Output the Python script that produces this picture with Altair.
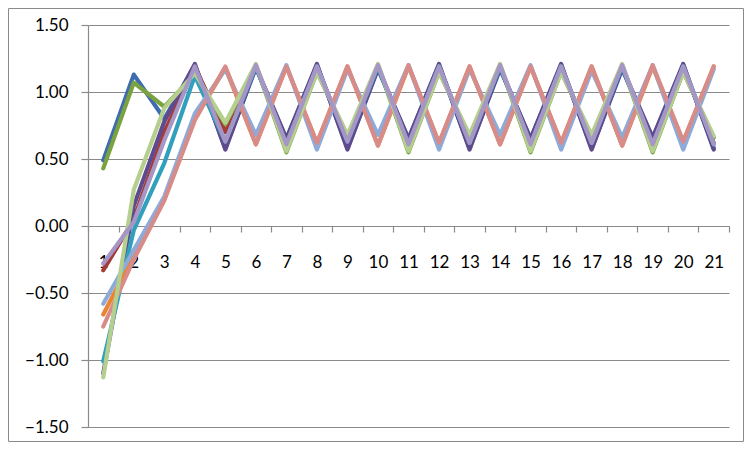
import altair as alt
import pandas as pd

categories = list(range(1, 22))

series_names = ["01 Blue", "02 Red", "03 Green", "04 Purple", "05 Aqua",
                "06 Orange", "07 Light blue", "08 Light red", "09 Light green", "10 Light purple"]
series_colors = ["#3E6CAE", "#A63A36", "#7AA33F", "#5E4A8C", "#31A0BC",
                 "#EA8432", "#8DABDA", "#D88C89", "#B5D08E", "#A596C5"]

s_blue = [0.49, 1.13, 0.80, 1.20, 0.58, 1.18, 0.65, 1.20, 0.58, 1.17, 0.65,
          1.20, 0.58, 1.17, 0.65, 1.20, 0.58, 1.17, 0.65, 1.20, 0.58]
s_red = [-0.33, 0.05, 0.70, 1.19, 0.70, 1.19, 0.62, 1.18, 0.64, 1.19, 0.62,
         1.18, 0.63, 1.19, 0.62, 1.18, 0.63, 1.19, 0.62, 1.18, 0.62]
s_green = [0.43, 1.07, 0.89, 1.13, 0.76, 1.20, 0.55, 1.15, 0.67, 1.20, 0.55,
           1.15, 0.67, 1.20, 0.55, 1.15, 0.67, 1.20, 0.55, 1.15, 0.66]
s_purple = [-1.10, 0.15, 0.78, 1.21, 0.57, 1.19, 0.65, 1.21, 0.57, 1.18, 0.65,
            1.21, 0.57, 1.18, 0.65, 1.21, 0.57, 1.18, 0.66, 1.21, 0.57]
s_aqua = [-1.01, -0.03, 0.47, 1.12, 0.63, 1.19, 0.61, 1.19, 0.63, 1.19, 0.61,
          1.19, 0.62, 1.19, 0.61, 1.19, 0.62, 1.19, 0.61, 1.19, 0.61]
s_orange = [-0.66, -0.22, 0.20, 0.80, 1.18, 0.61, 1.19, 0.62, 1.19, 0.60, 1.19,
            0.62, 1.19, 0.61, 1.19, 0.62, 1.19, 0.60, 1.19, 0.63, 1.19]
s_light_blue = [-0.58, -0.18, 0.22, 0.84, 1.17, 0.68, 1.20, 0.57, 1.17, 0.68, 1.20,
                0.57, 1.17, 0.68, 1.20, 0.57, 1.16, 0.66, 1.20, 0.57, 1.17]
s_light_red = [-0.75, -0.25, 0.19, 0.79, 1.19, 0.61, 1.19, 0.62, 1.19, 0.60, 1.20,
               0.62, 1.19, 0.61, 1.19, 0.62, 1.19, 0.60, 1.20, 0.63, 1.19]
s_light_green = [-1.13, 0.27, 0.88, 1.14, 0.77, 1.21, 0.56, 1.15, 0.68, 1.21, 0.56,
                 1.15, 0.68, 1.21, 0.56, 1.15, 0.68, 1.21, 0.56, 1.15, 0.67]
s_light_purple = [-0.28, 0.03, 0.64, 1.19, 0.63, 1.20, 0.61, 1.19, 0.63, 1.20, 0.61,
                  1.19, 0.62, 1.20, 0.61, 1.19, 0.62, 1.20, 0.61, 1.19, 0.61]

y_ticks = [-1.5, -1.0, -0.5, 0.0, 0.5, 1.0, 1.5]
x_ticks = [i / 2 for i in range(1, 44)]

all_series = [s_blue, s_red, s_green, s_purple, s_aqua, s_orange,
              s_light_blue, s_light_red, s_light_green, s_light_purple]

rows = []
for name, vals in zip(series_names, all_series):
    for c, v in zip(categories, vals):
        rows.append({"s": name, "x": c, "v": v})
df = pd.DataFrame(rows)

W, H = 641, 402
GRID = "#8A8A8A"
FONT = "Lato"

lines = alt.Chart(df).mark_line(
    strokeWidth=4.2, strokeCap="round", strokeJoin="round"
).encode(
    x=alt.X("x:Q",
            scale=alt.Scale(domain=[0.5, 21.5], nice=False, zero=False),
            axis=alt.Axis(values=x_ticks, title=None, grid=False,
                          labelExpr="datum.value % 1 === 0 ? toString(datum.value) : ''",
                          tickSize=6,
                          tickOpacity={"condition": {"test": "datum.value % 1 === 0", "value": 0}, "value": 1},
                          tickColor=GRID, domainColor=GRID, domainWidth=1.2, tickWidth=1.2,
                          offset=-201, labelFont=FONT, labelFontSize=17, labelColor="black",
                          labelPadding=22, labelOverlap=False, labelFlush=False)),
    y=alt.Y("v:Q",
            scale=alt.Scale(domain=[-1.5, 1.5], nice=False, zero=False),
            axis=alt.Axis(values=y_ticks, format=".2f", title=None,
                          tickSize=7, tickColor=GRID, tickWidth=1.2,
                          domainColor=GRID, domainWidth=1.2,
                          gridColor=GRID, gridWidth=1.2,
                          labelFont=FONT, labelFontSize=17, labelColor="black",
                          labelPadding=13)),
    color=alt.Color("s:N", scale=alt.Scale(domain=series_names, range=series_colors), legend=None),
    order=alt.Order("x:Q"),
)

border = alt.Chart(pd.DataFrame({"b": [0]})).mark_rect(
    fill="transparent", stroke="#8A8A8A", strokeWidth=1
).encode(
    x=alt.value(-79.5), x2=alt.value(W + 14.5),
    y=alt.value(-16.5), y2=alt.value(H + 14.5),
)

chart = alt.layer(border, lines).properties(
    width=W, height=H,
    padding={"left": 80, "top": 17, "right": 15, "bottom": 15},
    autosize=alt.AutoSizeParams(type="none"),
).configure_view(strokeWidth=0)

chart.save("out.html", embed_options={"renderer": "svg", "actions": False})
